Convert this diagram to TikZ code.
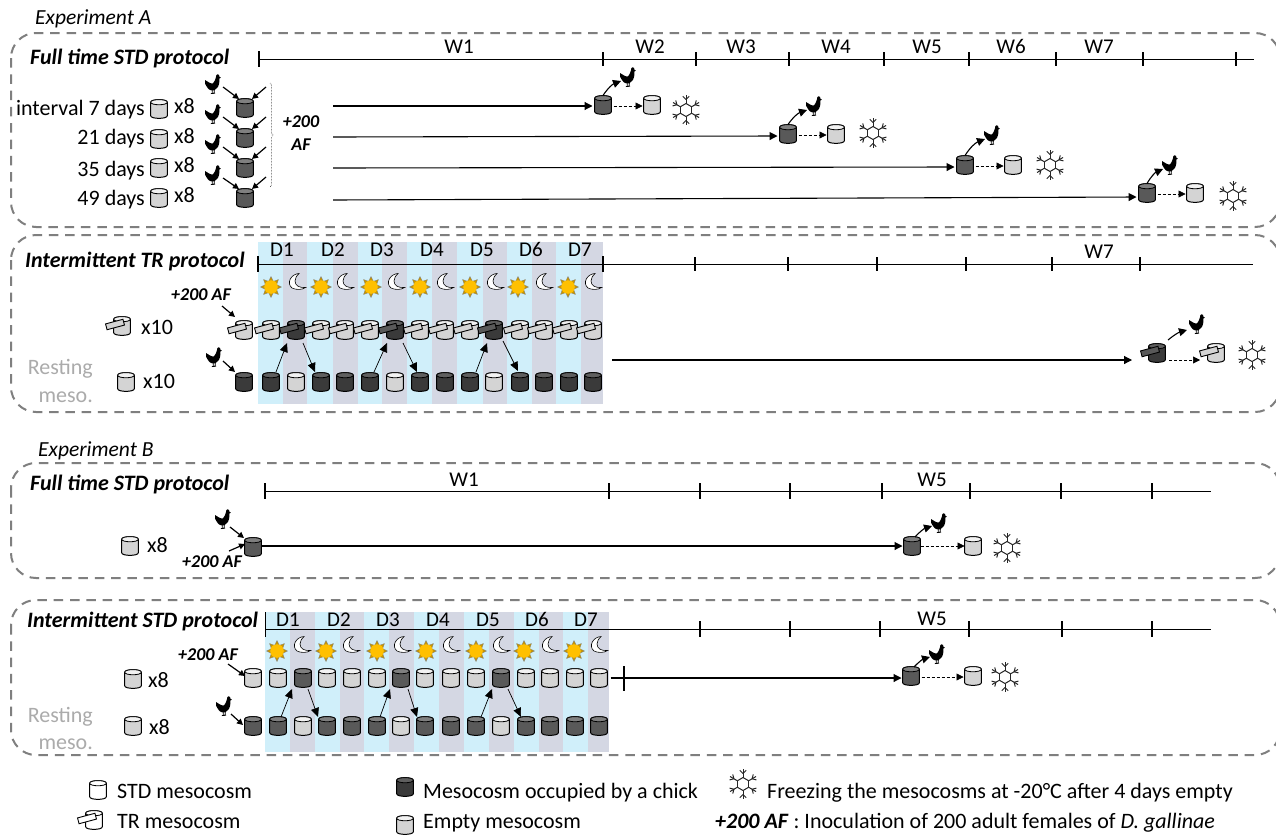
\documentclass[tikz,border=0pt]{standalone}
\usepackage{fontspec}
\setmainfont{Carlito}
\usetikzlibrary{arrows.meta,decorations.pathreplacing}
\definecolor{skyb}{HTML}{D0EFFA}
\definecolor{dusk}{HTML}{D4D7E3}
\definecolor{dashg}{HTML}{7F7F7F}
\definecolor{sunbody}{HTML}{FFC000}
\definecolor{sunray}{HTML}{C89600}
\definecolor{liteB}{HTML}{D4D4D4}\definecolor{liteE}{HTML}{F2F2F2}
\definecolor{darkB}{HTML}{595959}\definecolor{darkE}{HTML}{7F7F7F}
\definecolor{nightB}{HTML}{3A3A3A}\definecolor{nightE}{HTML}{5F5F5F}
\definecolor{blankB}{HTML}{FFFFFF}\definecolor{blankE}{HTML}{FFFFFF}
\tikzset{
  protobox/.style={draw=dashg,line width=2pt,dash pattern=on 9.5pt off 6.8pt,rounded corners=25pt},
  cylslot/.style={shape=rectangle,minimum height=19pt,minimum width=17pt,inner sep=0pt,outer sep=0pt},
  tubeb/.style={shape=rectangle,draw=black,line width=0.9pt,minimum width=18pt,minimum height=6pt,inner sep=0pt,rotate=15},
  lbl/.style={font=\fontsize{22}{26}\selectfont,inner sep=0pt},
  wk/.style={font=\fontsize{21}{25}\selectfont,inner sep=0pt,text height=13pt,text depth=0pt},
  titlefont/.style={font=\fontsize{22}{26}\selectfont\bfseries\itshape,inner sep=0pt},
  expt/.style={font=\fontsize{21.5}{25}\selectfont\itshape,inner sep=0pt,anchor=west},
  inoc/.style={font=\fontsize{18}{22}\selectfont\bfseries\itshape,inner sep=0pt},
  rest/.style={font=\fontsize{22}{26}\selectfont,text=black!33,inner sep=0pt},
  arr/.style={line width=1.1pt,-{Triangle[length=8pt,width=8pt]}},
  sharr/.style={line width=1.2pt,-{Triangle[length=6pt,width=6pt]}},
  thinarr/.style={line width=0.7pt,-{Triangle[length=9pt,width=8pt]}},
  darr/.style={line width=0.6pt,densely dashed,-{Triangle[length=7pt,width=7pt]}},
  axisl/.style={line width=1pt},
  tickm/.style={line width=1.2pt},
  pics/chick/.style={code={
    \coordinate (-c) at (0,0);
    \begin{scope}[xscale=.72,yscale=.82]
    \fill[black] (-11,-6) .. controls (-7,-4) and (-3,-1) .. (0,-2) .. controls (3,-3) and (2,-7) .. (4,-9)
      .. controls (4,-11.5) and (5,-13) .. (6,-13) .. controls (8,-13.5) and (9,-12) .. (9,-10) -- (11,-9) -- (9,-8)
      .. controls (9,-4) and (9,2) .. (4,5) .. controls (0,8) and (-5,7) .. (-8,3)
      .. controls (-11,0) and (-12,-3) .. cycle;
    \draw[black,line width=0.8pt] (-1,5) -- (-1,10) (2,5) -- (1.5,10) (-3,10.5) -- (3,10);
    \end{scope}
  }},
  pics/sunny/.style={code={
    \foreach \a in {0,45,...,315}
      \filldraw[fill=sunray,draw=black!50,line width=0.3pt] (\a-19:6.5) -- (\a:10.5) -- (\a+19:6.5) -- cycle;
    \fill[sunbody] (0,0) circle (6.8);
  }},
  pics/moony/.style={code={
    \filldraw[fill=white,draw=black,line width=0.6pt] (2,-8.5) .. controls (-6,-8) and (-11,1) .. (-5,6)
      .. controls (-1,8) and (5,8) .. (8.5,5.5) .. controls (3,6) and (-2,4) .. (-2,-1)
      .. controls (-2,-4) and (0,-7) .. (2,-8.5) -- cycle;
  }},
  pics/flake/.style={code={
    \foreach \a in {30,90,...,330}{
      \draw[black!85,line width=1pt] (\a:6.5) -- (\a+60:6.5);
      \draw[black!85,line width=1pt] (\a:6.5) -- (\a:15);
      \draw[black!85,line width=1pt] (\a:10.5) -- ++(\a+45:4.5);
      \draw[black!85,line width=1pt] (\a:10.5) -- ++(\a-45:4.5);
    }
  }}
}
% name, x, y, colour family
\newcommand{\mesoc}[4]{%
  \node[cylslot] (#1) at (#2,#3) {};
  \begin{scope}[shift={(#2,#3)}]
    \filldraw[fill=#4B,draw=black,line width=1pt,line join=round]
      (-8.3,-6.8) -- (-8.3,6.8) .. controls (-8.3,10.2) and (8.3,10.2) .. (8.3,6.8) -- (8.3,-6.8)
      .. controls (8.3,-10.2) and (-8.3,-10.2) .. (-8.3,-6.8) -- cycle;
    \filldraw[fill=#4E,draw=black,line width=0.8pt]
      (-8.3,-6.8) .. controls (-8.3,-10.2) and (8.3,-10.2) .. (8.3,-6.8)
      .. controls (8.3,-3.4) and (-8.3,-3.4) .. (-8.3,-6.8) -- cycle;
  \end{scope}
}
% name, x, y, colour family, tube fill
\newcommand{\trcyl}[5]{%
  \mesoc{#1}{#2}{#3}{#4}
  \node[tubeb,fill=#5] (#1t) at ([shift={(-7,-1.5)}]#1.center) {};
}
\begin{document}
\begin{tikzpicture}[x=1pt,y=-1pt]
\useasboundingbox (0,0) rectangle (1276,835);
\fill[white] (0,0) rectangle (1276,835);

% ---- frames
\draw[protobox] (11,33) rectangle (1280,227);
\draw[protobox] (11,235) rectangle (1280,412);
\draw[protobox] (11,463) rectangle (1280,578);
\draw[protobox] (11,600) rectangle (1280,755);
\node[expt] (expA) at (35,19) {Experiment A};
\node[expt] (expB) at (38,451) {Experiment B};

% ==== Full time STD (A)
\node[titlefont,anchor=west] (t1) at (30,59) {Full time STD protocol};
\draw[axisl] (259,59) -- (1254,59);
\draw[line width=1.6pt] (259,51) -- (259,67);
\foreach \x in {603,696,789,884,969,1056,1143,1236}
  \draw[tickm] (\x,52) -- (\x,66);
\foreach \x/\w in {459/W1,650/W2,741/W3,836/W4,927/W5,1011/W6,1099/W7}
  \node[wk] (lab\w) at (\x,47) {\w};

\node[lbl,anchor=east] (iv1) at (145,109.5) {interval 7 days};
\node[lbl,anchor=east] (iv2) at (145,138.5) {21 days};
\node[lbl,anchor=east] (iv3) at (145,170.5) {35 days};
\node[lbl,anchor=east] (iv4) at (145,199.5) {49 days};
\foreach \i/\y/\yy in {1/109/106,2/139/136,3/168/165,4/198/195}{
  \mesoc{st\i}{159}{\y}{lite}
  \node[lbl,anchor=west] (xe\i) at (174,\yy) {x8};
}
\foreach \i/\y/\ky in {1/108/85,2/138/115,3/168/145,4/198/176}{
  \mesoc{oc\i}{245}{\y}{dark}
  \pic (ck\i) at (213,\ky) {chick};
  \coordinate (af\i) at (266,\y-21);
  \draw[sharr] ([shift={(10,2)}]ck\i-c) -- ([shift={(-6,-9)}]oc\i.center);
  \draw[sharr] (af\i) -- ([shift={(7,-9)}]oc\i.center);
}
\coordinate (brA) at (270,83); \coordinate (brB) at (270,187);
\draw[line width=0.5pt,densely dotted,decorate,decoration={brace,amplitude=3pt}] (brA) -- (brB);
\node[inoc] (af200) at (301,122) {+200};
\node[inoc] (afaf) at (301,145) {AF};

\foreach \i/\sy/\dx/\dy/\ex/\kx/\ky/\fx/\fy/\ay in
   {1/106/603/105/652/628/78/686/110/1,
    2/137/788/134/836/814/107/873/133/2,
    3/168/965/165/1013/992/136/1050/165/2,
    4/200/1147/193/1195/1170/166/1233/196/4}{
  \coordinate (s\i) at (333,\sy);
  \mesoc{d\i}{\dx}{\dy}{dark}
  \mesoc{e\i}{\ex}{\dy}{lite}
  \pic (kk\i) at (\kx,\ky) {chick};
  \pic at (\fx,\fy) {flake};
  \draw[arr,shorten >=2pt] (s\i) -- ([shift={(0,\ay)}]d\i.west);
  \draw[darr] ([shift={(2,1)}]d\i.east) -- ([shift={(-1,1)}]e\i.west);
  \draw[arr] (d\i.north) to[bend left=18] ([shift={(-7,3)}]kk\i-c);
}

% ==== Intermittent TR
\foreach \a/\b/\c in {258/283/skyb,283/307/dusk,307/333/skyb,333/358/dusk,358/382/skyb,382/407/dusk,407/432/skyb,
   432/457/dusk,457/483/skyb,483/507/dusk,507/532/skyb,532/556/dusk,556/581/skyb,581/603/dusk}
  \fill[\c] (\a,242) rectangle (\b,404);
\node[titlefont,anchor=west] (t2) at (25,262) {Intermittent TR protocol};
\draw[axisl] (258,264) -- (1253,264);
\draw[line width=1.6pt] (258,256) -- (258,272);
\draw[line width=1.6pt] (603,256) -- (603,272);
\foreach \x in {695,788,877,966,1052,1140}
  \draw[tickm] (\x,257) -- (\x,271);
\foreach \x/\w in {282/D1,333/D2,382/D3,432/D4,482/D5,531/D6,580/D7}
  \node[wk] (tr\w) at (\x,250) {\w};
\node[wk] (trW) at (1099,252) {W7};
\foreach \x in {271,321,371,420,470,518,568} \pic at (\x,287) {sunny};
\foreach \x in {297,345,396,445,495,544,593} \pic at (\x,282) {moony};
\foreach \i/\x/\s/\f in {1/244/lite/liteB,2/271/lite/liteB,3/296/night/darkB,4/321/lite/liteB,
   5/345/lite/liteB,6/370/lite/liteB,7/395/night/darkB,8/420/lite/liteB,9/445/lite/liteB,
   10/470/lite/liteB,11/494/night/darkB,12/520/lite/liteB,13/544/lite/liteB,14/569/lite/liteB,15/593/lite/liteB}
  {\trcyl{tt\i}{\x}{330}{\s}{\f}}
\foreach \i/\x/\s in {1/244/night,2/271/night,3/296/lite,4/321/night,5/345/night,6/370/night,7/395/lite,
   8/420/night,9/445/night,10/470/night,11/494/lite,12/520/night,13/544/night,14/569/night,15/593/night}
  {\mesoc{tb\i}{\x}{382}{\s}}
\draw[thinarr] ([shift={(5,-10)}]tb2.center) -- ([shift={(-9,13)}]tt3.center);
\draw[thinarr] ([shift={(7,13)}]tt3.center) -- ([shift={(-6,-10)}]tb4.center);
\draw[thinarr] ([shift={(4,-10)}]tb6.center) -- ([shift={(-8,13)}]tt7.center);
\draw[thinarr] ([shift={(8,13)}]tt7.center) -- ([shift={(-3,-10)}]tb8.center);
\draw[thinarr] ([shift={(6,-10)}]tb10.center) -- ([shift={(-7,13)}]tt11.center);
\draw[thinarr] ([shift={(9,11)}]tt11.center) -- ([shift={(-2,-11)}]tb12.center);
\node[inoc] (tra) at (201,295) {+200 AF};
\coordinate (traf) at (222,306);
\draw[sharr] (traf) -- ([shift={(-9,-13)}]tt1.center);
\pic (ckt) at (214,358) {chick};
\draw[sharr] ([shift={(9,3)}]ckt-c) -- ([shift={(-9,-10)}]tb1.center);
\trcyl{legTR}{122}{326}{lite}{liteB}
\node[lbl,anchor=west] (x10a) at (141,327) {x10};
\mesoc{legL}{126}{382}{lite}
\node[lbl,anchor=west] (x10b) at (143,381) {x10};
\node[rest,anchor=east] (re1) at (93,369) {Resting};
\node[rest,anchor=east] (re2) at (93,397) {meso.};

\coordinate (s5) at (612,360);
\trcyl{d5}{1157}{353}{night}{darkB}
\trcyl{e5}{1216}{353}{lite}{liteB}
\pic (kk5) at (1197,325) {chick};
\pic at (1252,355) {flake};
\draw[arr] (s5) -- ([shift={(-25,7)}]d5.center);
\draw[darr] ([shift={(12,7)}]d5.center) -- ([shift={(-16,7)}]e5.center);
\draw[arr] ([shift={(11,-13)}]d5.center) to[bend left=12] ([shift={(-10,5)}]kk5-c);

% ==== Full time STD (B)
\node[titlefont,anchor=west] (t3) at (30,484) {Full time STD protocol};
\draw[axisl] (265,491) -- (1211,491);
\draw[line width=1.6pt] (265,483) -- (265,499);
\foreach \x in {609,700,790,882,970,1061,1152}
  \draw[tickm] (\x,483) -- (\x,499);
\node[wk] (bW1) at (464,480) {W1};
\node[wk] (bW5) at (932,480) {W5};
\mesoc{b1}{130}{546}{lite}
\node[lbl,anchor=west] (bx8) at (147,545) {x8};
\pic (bk1) at (223,520) {chick};
\mesoc{b2}{253}{547}{dark}
\node[inoc] (baf) at (212,562) {+200 AF};
\coordinate (bafe) at (229,551);
\draw[sharr] ([shift={(7,7)}]bk1-c) -- ([shift={(-9,-9)}]b2.center);
\draw[sharr] (bafe) -- ([shift={(-8,-3)}]b2.center);
\mesoc{b3}{912}{546}{dark}
\mesoc{b4}{973}{546}{lite}
\pic (bk2) at (939,524) {chick};
\pic at (1007,548) {flake};
\draw[arr,shorten >=1pt] ([shift={(0,-1)}]b2.east) -- (b3.west);
\draw[darr] (b3.east) -- (b4.west);
\draw[arr] ([shift={(3,-9)}]b3.center) to[bend left=15] ([shift={(-7,2)}]bk2-c);

% ==== Intermittent STD
\foreach \a/\b/\c in {265/290/skyb,290/315/dusk,315/340/skyb,340/364/dusk,364/389/skyb,389/414/dusk,414/439/skyb,
   439/464/dusk,464/489/skyb,489/514/dusk,514/539/skyb,539/563/dusk,563/588/skyb,588/609/dusk}
  \fill[\c] (\a,612) rectangle (\b,752);
\node[titlefont,anchor=west] (t4) at (27,622) {Intermittent STD protocol};
\draw[axisl] (265,629) -- (1211,629);
\draw[line width=1pt] (265,612) -- (265,637);
\foreach \x in {700,790,880,969,1062,1152}
  \draw[tickm] (\x,621) -- (\x,637);
\foreach \x/\w in {288/D1,339/D2,388/D3,438/D4,488/D5,537/D6,586/D7}
  \node[wk] (is\w) at (\x,620) {\w};
\node[wk] (isW) at (932,619) {W5};
\foreach \x in {277,326,377,426,476,524,574} \pic at (\x,651) {sunny};
\foreach \x in {302,351,402,451,501,550,599} \pic at (\x,645) {moony};
\foreach \i/\x/\s in {1/253/lite,2/278/lite,3/303/dark,4/327/lite,5/352/lite,6/377/lite,7/401/dark,
   8/425/lite,9/451/lite,10/476/lite,11/501/dark,12/526/lite,13/550/lite,14/575/lite,15/599/lite}
  {\mesoc{it\i}{\x}{678}{\s}}
\foreach \i/\x/\s in {1/253/dark,2/278/dark,3/303/lite,4/327/dark,5/352/dark,6/377/dark,7/401/lite,
   8/425/dark,9/451/dark,10/476/dark,11/501/lite,12/526/dark,13/550/dark,14/575/dark,15/599/dark}
  {\mesoc{ib\i}{\x}{726}{\s}}
\draw[thinarr] ([shift={(3,-9)}]ib2.center) -- ([shift={(-11,11)}]it3.center);
\draw[thinarr] ([shift={(5,11)}]it3.center) -- ([shift={(-9,-9)}]ib4.center);
\draw[thinarr] ([shift={(3,-9)}]ib6.center) -- ([shift={(-11,11)}]it7.center);
\draw[thinarr] ([shift={(7,11)}]it7.center) -- ([shift={(-8,-9)}]ib8.center);
\draw[thinarr] ([shift={(5,-9)}]ib10.center) -- ([shift={(-9,11)}]it11.center);
\draw[thinarr] ([shift={(7,11)}]it11.center) -- ([shift={(-5,-9)}]ib12.center);
\node[inoc] (isa) at (208,655) {+200 AF};
\coordinate (isaf) at (228,664);
\draw[sharr] (isaf) -- ([shift={(-8,-2)}]it1.center);
\pic (cki) at (224,707) {chick};
\draw[sharr] ([shift={(7,7)}]cki-c) -- ([shift={(-10,-1)}]ib1.center);
\mesoc{ilA}{133}{679}{lite}
\node[lbl,anchor=west] (ix8a) at (148,680) {x8};
\mesoc{ilB}{133}{726}{lite}
\node[lbl,anchor=west] (ix8b) at (149,727) {x8};
\node[rest,anchor=east] (ire1) at (93,717) {Resting};
\node[rest,anchor=east] (ire2) at (93,744) {meso.};
\draw[tickm] (624,666) -- (624,691);
\mesoc{i3}{911}{676}{dark}
\mesoc{i4}{973}{676}{lite}
\pic (ik2) at (937,655) {chick};
\pic at (1005,677) {flake};
\draw[arr,shorten <=3pt,shorten >=1pt] (it15.east) -- ([shift={(0,2)}]i3.west);
\draw[darr] ([shift={(2,1)}]i3.east) -- ([shift={(-1,1)}]i4.west);
\draw[arr] ([shift={(3,-9)}]i3.center) to[bend left=15] ([shift={(-7,2)}]ik2-c);

% ==== Legend
\mesoc{lgS}{98}{790}{blank}
\node[lbl,anchor=west] (lgSt) at (117,791) {STD mesocosm};
\trcyl{lgT}{94}{820}{blank}{white}
\node[lbl,anchor=west] (lgTt) at (117,822) {TR mesocosm};
\mesoc{lgD}{405}{787}{night}
\node[lbl,anchor=west] (lgDt) at (423,793) {Mesocosm occupied by a chick};
\mesoc{lgE}{405}{825}{lite}
\node[lbl,anchor=west] (lgEt) at (423,823) {Empty mesocosm};
\pic at (743,784) {flake};
\node[lbl,anchor=west] (lgF) at (767,793) {Freezing the mesocosms at -20°C after 4 days empty};
\node[lbl,anchor=west] (lgI) at (715,823) {\textbf{\textit{+200 AF}} : Inoculation of 200 adult females of \textit{D. gallinae}};
\end{tikzpicture}
\end{document}
